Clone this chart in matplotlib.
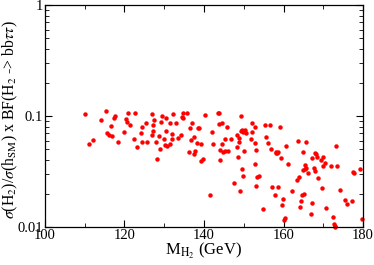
import numpy as np
import matplotlib
matplotlib.use("Agg")
import matplotlib.pyplot as plt
from matplotlib.ticker import FixedLocator, LogLocator, NullFormatter

plt.rcParams['font.family'] = ['Liberation Serif', 'DejaVu Serif']
plt.rcParams['mathtext.fontset'] = 'stix'

# scan points: H2 mass (GeV) and signal ratio
mass = [110.1, 111.2, 112.1, 114.0, 115.3, 115.5, 116.2, 116.5, 116.9, 117.4,
        117.7, 118.3, 119.8, 120.3, 120.6, 121.0, 121.4, 122.5, 122.6, 123.1,
        124.2, 124.4, 124.5, 125.3, 125.6, 126.8, 127.0, 127.2, 127.3, 127.4,
        128.0, 128.3, 128.8, 129.0, 129.2, 129.4, 130.0, 130.2, 130.4, 130.5,
        130.6, 131.4, 131.5, 131.9, 131.9, 132.3, 133.0, 133.5, 134.2, 134.4,
        134.7, 134.8, 135.6, 136.2, 136.5, 136.7, 137.1, 137.4, 137.6, 137.7,
        138.2, 138.5, 138.7, 139.2, 139.2, 139.8, 140.3, 141.5, 142.1, 142.2,
        143.6, 143.8, 143.8, 143.9, 144.0, 144.4, 144.5, 144.8, 145.2, 145.3,
        145.7, 146.1, 146.9, 147.6, 148.2, 148.3, 148.5, 148.7, 148.9, 149.1,
        149.2, 149.3, 149.5, 149.6, 149.7, 149.9, 150.0, 150.3, 150.6, 151.9,
        152.0, 152.1, 152.7, 152.8, 152.9, 153.0, 153.1, 153.4, 153.7, 154.9,
        155.3, 155.7, 156.2, 156.5, 156.8, 157.2, 157.9, 158.0, 158.2, 158.4,
        158.5, 158.7, 159.1, 159.3, 159.6, 159.8, 160.0, 160.4, 160.6, 161.0,
        162.0, 163.3, 163.6, 164.0, 164.1, 164.4, 164.6, 164.8, 164.9, 165.2,
        165.3, 165.5, 165.6, 165.7, 166.1, 166.8, 167.1, 167.2, 167.6, 167.8,
        167.9, 168.2, 168.5, 168.7, 169.5, 169.6, 169.8, 170.0, 170.5, 170.7,
        171.9, 172.3, 172.7, 172.8, 173.0, 173.2, 173.4, 174.2, 175.5, 175.9,
        177.1, 177.4, 177.7, 179.2, 179.7]
ratio = [0.104, 0.0566, 0.061, 0.0918, 0.11, 0.070, 0.0677, 0.081, 0.0655, 0.096,
         0.0997, 0.058, 0.072, 0.095, 0.0886, 0.107, 0.0827, 0.0623, 0.107, 0.0532,
         0.0697, 0.080, 0.058, 0.0875, 0.058, 0.067, 0.104, 0.0727, 0.083, 0.093,
         0.059, 0.041, 0.066, 0.050, 0.088, 0.0997, 0.062, 0.0547, 0.097, 0.0736,
         0.054, 0.0875, 0.0558, 0.069, 0.062, 0.104, 0.086, 0.063, 0.068, 0.099,
         0.1076, 0.096, 0.1076, 0.047, 0.0778, 0.0615, 0.0875, 0.046, 0.0646, 0.048,
         0.057, 0.0778, 0.078, 0.056, 0.0395, 0.041, 0.1025, 0.0194, 0.072, 0.0566,
         0.107, 0.1055, 0.084, 0.049, 0.0398, 0.0566, 0.086, 0.0473, 0.062, 0.048,
         0.080, 0.0486, 0.062, 0.025, 0.0677, 0.053, 0.0426, 0.064, 0.059, 0.021,
         0.1004, 0.073, 0.0332, 0.0746, 0.0288, 0.0716, 0.048, 0.0746, 0.0697, 0.062,
         0.086, 0.072, 0.0805, 0.0371, 0.057, 0.0235, 0.049, 0.028, 0.0288, 0.0145,
         0.083, 0.0646, 0.057, 0.083, 0.051, 0.0229, 0.0195, 0.0463, 0.047, 0.0463,
         0.023, 0.0477, 0.080, 0.0415, 0.0157, 0.018, 0.0116, 0.0122, 0.054, 0.0369,
         0.0212, 0.0265, 0.060, 0.0285, 0.0151, 0.0171, 0.0195, 0.0326, 0.047, 0.0198,
         0.0337, 0.0359, 0.059, 0.0344, 0.0304, 0.0131, 0.0418, 0.0164, 0.034, 0.0463,
         0.0319, 0.0457, 0.043, 0.0276, 0.0406, 0.0226, 0.0352, 0.043, 0.0374, 0.0148,
         0.0356, 0.0123, 0.0107, 0.0103, 0.0101, 0.0535, 0.0352, 0.0217, 0.0174, 0.016,
         0.0171, 0.0313, 0.0306, 0.0332, 0.0119]

fig = plt.figure(figsize=(3.74, 2.65), dpi=100)
ax = fig.add_axes([0.120, 0.143, 0.851, 0.838])

ax.plot(mass, ratio, 'o', color='red', markersize=3.2, markeredgewidth=0, clip_on=False)

ax.set_yscale('log')
ax.set_xlim(100, 180)
ax.set_ylim(0.01, 1)
ax.set_xticks([100, 120, 140, 160, 180])
ax.xaxis.set_minor_locator(FixedLocator([110, 130, 150, 170]))
ax.set_yticks([0.01, 0.1, 1])
ax.set_yticklabels(['0.01', '0.1', '1'])
ax.yaxis.set_minor_locator(LogLocator(base=10, subs=np.arange(2, 10)))
ax.yaxis.set_minor_formatter(NullFormatter())

ax.tick_params(which='both', direction='in', top=True, right=True, labelsize=10.5, pad=1.5)
ax.tick_params(which='major', length=5, width=0.8)
ax.tick_params(which='minor', length=3, width=0.6)
for s in ax.spines.values():
    s.set_linewidth(0.9)

ax.set_xlabel(r'M$_{\mathrm{H}_2}$ (GeV)', fontsize=12, labelpad=-1)
ax.set_ylabel(r'$\sigma$(H$_2$)/$\sigma$(h$_{\mathrm{SM}}$) x BF(H$_2$ -> bb$\tau\tau$)',
              fontsize=11.3)
ax.yaxis.set_label_coords(-0.078, 0.486)

fig.savefig('out.png', dpi=100)
